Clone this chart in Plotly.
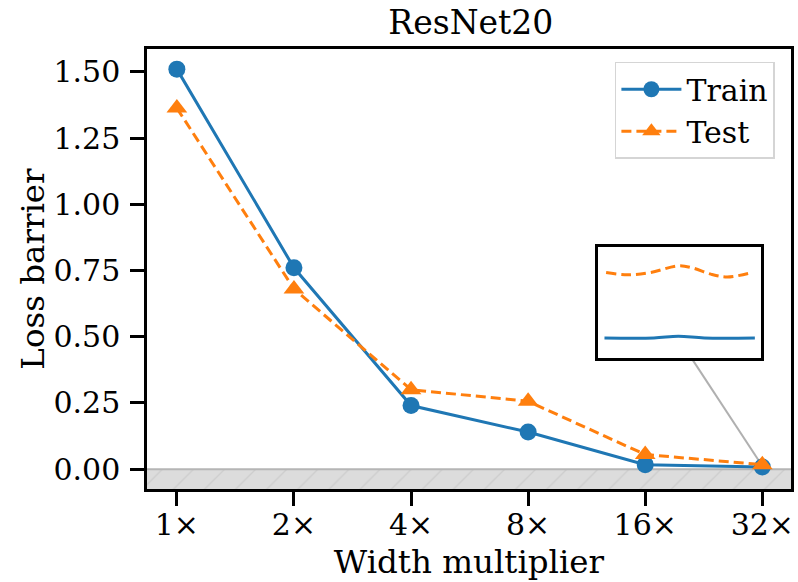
import numpy as np
import plotly.graph_objects as go

# ---- data ----
widths = [1, 2, 4, 8, 16, 32]
tick_labels = ["1×", "2×", "4×", "8×", "16×", "32×"]
train_barrier = [1.51, 0.76, 0.24, 0.14, 0.017, 0.008]
test_barrier = [1.363, 0.68, 0.30, 0.256, 0.055, 0.017]

# inset curves (zoomed view, arbitrary normalised units)
inset_test_x = [0.047, 0.18, 0.32, 0.49, 0.58, 0.69, 0.79, 0.93]
inset_test_y = [0.77, 0.75, 0.77, 0.83, 0.81, 0.755, 0.73, 0.765]
inset_train_x = [0.037, 0.34, 0.49, 0.65, 0.96]
inset_train_y = [0.18, 0.18, 0.195, 0.18, 0.18]

BLUE = "#1f77b4"
ORANGE = "#ff7f0e"
FONT = "DejaVu Serif"

xpos = np.log2(widths)
x_range = [-0.255, 5.245]
y_range = [-0.075, 1.586]

inset_dom_x = [0.701, 0.954]
inset_dom_y = [0.298, 0.55]

fig = go.Figure()

# hatched negative band
fig.add_trace(go.Scatter(
    x=[x_range[0] - 1, x_range[1] + 1, x_range[1] + 1, x_range[0] - 1],
    y=[0, 0, y_range[0] - 1, y_range[0] - 1],
    fill="toself", mode="lines",
    line=dict(color="#b5b5b5", width=2),
    fillcolor="#dcdcdc",
    fillpattern=dict(shape="/", bgcolor="#dcdcdc", fgcolor="#bdbdbd", size=22, solidity=0.06),
    showlegend=False, hoverinfo="skip"))

fig.add_trace(go.Scatter(
    x=xpos, y=train_barrier, name="Train", mode="lines+markers",
    line=dict(color=BLUE, width=3),
    marker=dict(symbol="circle", size=17, color=BLUE)))
fig.add_trace(go.Scatter(
    x=xpos, y=test_barrier, name="Test", mode="lines+markers",
    line=dict(color=ORANGE, width=3, dash="10px,5px"),
    marker=dict(symbol="triangle-up", size=18, color=ORANGE)))

# inset
fig.add_trace(go.Scatter(
    x=inset_test_x, y=inset_test_y, mode="lines", xaxis="x2", yaxis="y2",
    line=dict(color=ORANGE, width=3, dash="10px,5px", shape="spline"),
    showlegend=False, hoverinfo="skip"))
fig.add_trace(go.Scatter(
    x=inset_train_x, y=inset_train_y, mode="lines", xaxis="x2", yaxis="y2",
    line=dict(color=BLUE, width=3, shape="spline"),
    showlegend=False, hoverinfo="skip"))

# connector from inset bottom to the 32x point
px = inset_dom_x[0] + 0.57 * (inset_dom_x[1] - inset_dom_x[0])
py = inset_dom_y[0]
cx = x_range[0] + px * (x_range[1] - x_range[0])
cy = y_range[0] + py * (y_range[1] - y_range[0])
fig.add_shape(type="line", xref="x", yref="y", x0=cx, y0=cy,
              x1=xpos[-1], y1=train_barrier[-1] + 0.004,
              line=dict(color="#b0b0b0", width=2), layer="below")

axis_common = dict(showline=True, linecolor="black", linewidth=2.5, mirror=True,
                   ticks="outside", ticklen=14, tickwidth=2.5, tickcolor="black",
                   showgrid=False, zeroline=False,
                   tickfont=dict(family=FONT, size=30, color="black"))

fig.update_layout(
    width=798, height=582,
    margin=dict(l=147, r=4, t=49, b=93),
    paper_bgcolor="white", plot_bgcolor="white",
    font=dict(family=FONT, size=30, color="black"),
    title=dict(text="ResNet20", x=0.59, xanchor="center", y=0.962, yanchor="middle",
               font=dict(family=FONT, size=33, color="black")),
    xaxis=dict(range=x_range, tickvals=xpos, ticktext=tick_labels,
               ticklabelstandoff=-7,
               title=dict(text="Width multiplier", standoff=10,
                          font=dict(family=FONT, size=32.5)), **axis_common),
    yaxis=dict(range=y_range, tickvals=[0, 0.25, 0.5, 0.75, 1.0, 1.25, 1.5],
               tickformat=".2f", ticklabelstandoff=4,
               title=dict(text="Loss barrier", standoff=0,
                          font=dict(family=FONT, size=32.5)), **axis_common),
    xaxis2=dict(domain=inset_dom_x, anchor="y2", range=[0, 1], showline=True,
                linecolor="black", linewidth=3, mirror=True, showticklabels=False,
                ticks="", showgrid=False, zeroline=False),
    yaxis2=dict(domain=inset_dom_y, anchor="x2", range=[0, 1], showline=True,
                linecolor="black", linewidth=3, mirror=True, showticklabels=False,
                ticks="", showgrid=False, zeroline=False),
    legend=dict(x=0.975, y=0.971, xanchor="right", yanchor="top",
                bgcolor="white", bordercolor="#d5d5d5", borderwidth=1.5,
                font=dict(family=FONT, size=30, color="black"),
                tracegroupgap=4, itemwidth=60),
)

fig.write_html("out.html")
